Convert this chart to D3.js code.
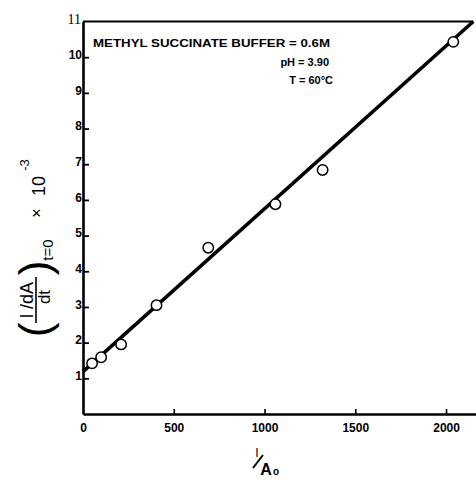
<!DOCTYPE html>
<html>
<head>
<meta charset="utf-8">
<script src="https://cdn.jsdelivr.net/npm/d3@7.9.0/dist/d3.min.js"></script>
<style>
  body { margin: 0; background: #fff; }
  svg { display: block; }
  .tick text { font-family: "Liberation Sans", Arial, sans-serif; font-weight: bold; font-size: 12px; fill: #000; }
  .note { font-family: "Liberation Sans", Arial, sans-serif; font-weight: bold; font-size: 11px; }
  .ylab text { font-family: "Liberation Sans", Arial, sans-serif; fill: #000; }
</style>
</head>
<body>
<svg id="chart" width="476" height="480"></svg>
<script>
// points
const invA0 = [50, 100, 210, 405, 690, 1060, 1320, 2040];
const invRate = [1.42, 1.59, 1.95, 3.05, 4.66, 5.88, 6.84, 10.43];

// straight line drawn through the points
const fitX = [0, 2150];
const fitY = [1.19, 11];

const xTicks = [0, 500, 1000, 1500, 2000];
const yTicks = [1, 2, 3, 4, 5, 6, 7, 8, 9, 10];

const noteLines = ["METHYL SUCCINATE BUFFER = 0.6M", "pH = 3.90", "T = 60°C"];

const svg = d3.select("#chart");

const x = d3.scaleLinear().domain([0, 2165]).range([83, 476]);
const y = d3.scaleLinear().domain([0, 11]).range([414, 21.5]);

// x axis, ticks pointing up
const xAxis = svg.append("g")
  .attr("transform", `translate(0,${y(0)})`)
  .call(d3.axisBottom(x).tickValues(xTicks).tickFormat(d3.format("d"))
    .tickSize(-5).tickSizeOuter(0).tickPadding(9));
xAxis.select(".domain").attr("stroke-width", 2.6);
xAxis.selectAll(".tick line").attr("stroke-width", 1.6);
xAxis.selectAll(".tick").filter((d) => d === 0).select("line").remove();

// y axis, ticks pointing right, labels sit on the tick
const yAxis = svg.append("g")
  .attr("transform", `translate(${x(0)},0)`)
  .call(d3.axisLeft(y).tickValues(yTicks).tickSize(-6).tickSizeOuter(0).tickPadding(1));
yAxis.select(".domain").attr("stroke-width", 2.6);
yAxis.selectAll(".tick line").attr("stroke-width", 1.8);
yAxis.selectAll(".tick text").attr("dy", "0.1em");

// top frame line
svg.append("line")
  .attr("x1", x(0)).attr("x2", x(fitX[1]))
  .attr("y1", y(11)).attr("y2", y(11))
  .attr("stroke", "#000").attr("stroke-width", 2.2);

svg.append("text")
  .attr("x", x(0) - 2).attr("y", y(11) + 2)
  .attr("text-anchor", "end")
  .attr("font-family", "Liberation Serif, serif")
  .attr("font-size", 14)
  .text("11");

// fitted line
svg.append("line")
  .attr("x1", x(fitX[0])).attr("y1", y(fitY[0]))
  .attr("x2", x(fitX[1])).attr("y2", y(fitY[1]))
  .attr("stroke", "#000").attr("stroke-width", 3.6);

// open circles
svg.selectAll("circle.pt")
  .data(invA0)
  .join("circle")
  .attr("class", "pt")
  .attr("cx", (d) => x(d))
  .attr("cy", (d, i) => y(invRate[i]))
  .attr("r", 5.2)
  .attr("fill", "#fff")
  .attr("stroke", "#000")
  .attr("stroke-width", 1.5);

// conditions text
svg.append("text").attr("class", "note")
  .attr("x", 93).attr("y", 47)
  .attr("textLength", 237).attr("lengthAdjust", "spacingAndGlyphs")
  .text(noteLines[0]);
svg.append("text").attr("class", "note")
  .attr("x", 329).attr("y", 66).attr("text-anchor", "end")
  .text(noteLines[1]);
svg.append("text").attr("class", "note")
  .attr("x", 333).attr("y", 84).attr("text-anchor", "end")
  .text(noteLines[2]);

// x axis title  1/Ao
const xl = svg.append("g");
xl.append("text").attr("x", 257).attr("y", 457).attr("font-family", "Liberation Sans, sans-serif")
  .attr("font-size", 13).attr("text-anchor", "middle").text("l");
xl.append("line").attr("x1", 253).attr("y1", 468).attr("x2", 263).attr("y2", 455)
  .attr("stroke", "#000").attr("stroke-width", 2);
xl.append("text").attr("x", 266).attr("y", 475).attr("font-family", "Liberation Sans, sans-serif")
  .attr("font-weight", "bold").attr("font-size", 16).attr("text-anchor", "middle").text("A");
xl.append("text").attr("x", 276).attr("y", 475).attr("font-family", "Liberation Sans, sans-serif")
  .attr("font-weight", "bold").attr("font-size", 10).attr("text-anchor", "middle").text("o");

// y axis title, rotated
const yl = svg.append("g").attr("class", "ylab")
  .attr("transform", "translate(36,300) rotate(-90)");
yl.append("text").attr("x", -30).attr("y", 14).attr("font-size", 44).attr("font-weight", 300)
  .attr("text-anchor", "middle").text("(");
yl.append("text").attr("x", 0).attr("y", -3).attr("font-size", 18)
  .attr("text-anchor", "middle").text("l /dA");
yl.append("line").attr("x1", -23).attr("x2", 23).attr("y1", 0).attr("y2", 0)
  .attr("stroke", "#000").attr("stroke-width", 1.6);
yl.append("text").attr("x", 3).attr("y", 14).attr("font-size", 17)
  .attr("text-anchor", "middle").text("dt");
yl.append("text").attr("x", 32).attr("y", 14).attr("font-size", 44).attr("font-weight", 300)
  .attr("text-anchor", "middle").text(")");
yl.append("text").attr("x", 50).attr("y", 17).attr("font-size", 15)
  .attr("text-anchor", "middle").text("t=0");
yl.append("text").attr("x", 87).attr("y", 6).attr("font-size", 16)
  .attr("text-anchor", "middle").text("×");
yl.append("text").attr("x", 114).attr("y", 9).attr("font-size", 18)
  .attr("text-anchor", "middle").text("10");
yl.append("text").attr("x", 135).attr("y", -7).attr("font-size", 13)
  .attr("text-anchor", "middle").text("-3");
</script>
</body>
</html>
